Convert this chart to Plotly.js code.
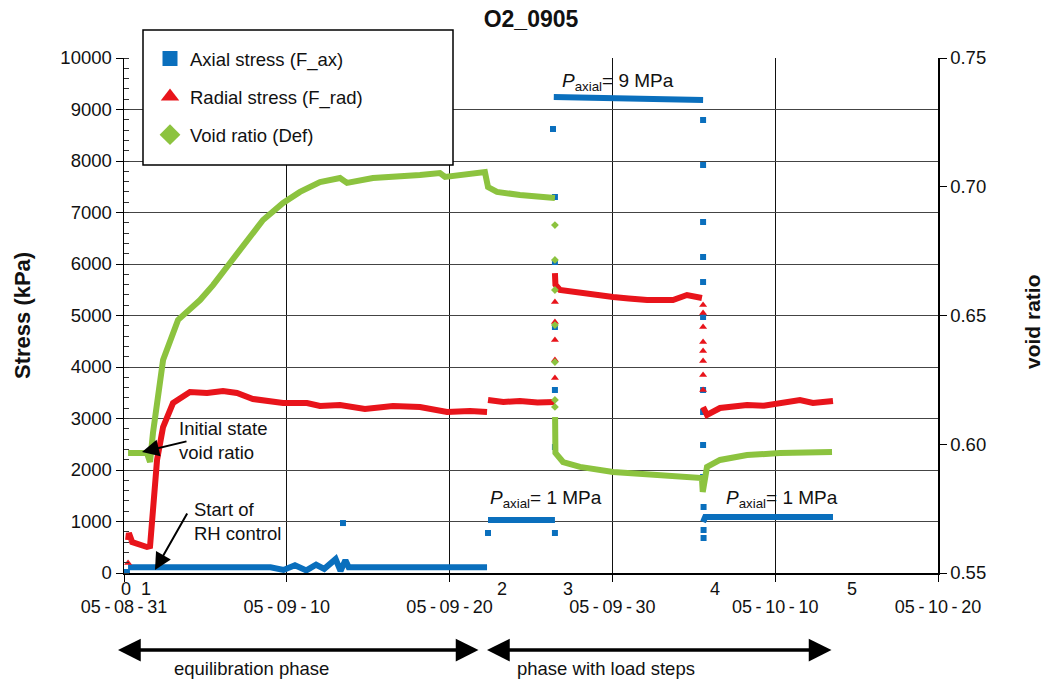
<!DOCTYPE html>
<html>
<head>
<meta charset="utf-8">
<script src="https://cdn.plot.ly/plotly-3.0.1.min.js"></script>
<style>html,body{margin:0;padding:0;background:#fff}#chart{width:1047px;height:682px}</style>
</head>
<body>
<div id="chart"></div>
<script>
// ---- data (x in days after 2005-08-31) ----
const axialDays = [0.25, 9.0, 9.8, 10.5, 11.2, 11.8, 12.3, 13.0, 13.3, 13.6, 13.8, 22.30, null,
                   22.36, 26.47, null, 26.40, 35.57, null, 35.57, 35.70, 43.55];
const axialKPa  = [110, 110, 60, 150, 50, 160, 80, 270, 40, 250, 110, 110, null,
                   1029, 1029, null, 9243, 9184, null, 990, 1087, 1087];
const axialSpikeDays = [0.18, 13.45, 22.36, 26.47, 26.35, 26.47, 26.47, 26.47, 26.47, 26.47,
                        35.57, 35.57, 35.57, 35.57, 35.57, 35.57, 35.57, 35.57, 35.57, 35.57, 35.60, 35.60, 35.60];
const axialSpikeKPa  = [20, 970, 777, 777, 8621, 7301, 6039, 4777, 3553, 2447,
                        8796, 7922, 6816, 6136, 5650, 4971, 3553, 3126, 2485, 1864, 1282, 835, 680];

const radialDays = [0.25, 0.30, 0.50, 1.41, 1.60, 2.03, 2.40, 3.01, 4.05, 5.10, 6.08, 6.94, 7.92, 9.77, 11.24,
                    12.04, 13.27, 14.80, 16.52, 18.18, 19.84, 21.25, 22.30, null,
                    22.36, 23.3, 24.32, 25.4, 26.47, null,
                    26.47, 26.50, 26.78, 28.01, 29.0, 30.04, 31.0, 32.13, 33.72, 34.58, 35.50, null,
                    35.57, 35.81, 36.61, 37.4, 38.27, 39.3, 40.29, 41.52, 42.32, 43.55];
const radialKPa  = [641, 777, 600, 505, 520, 2194, 2835, 3301, 3515, 3495, 3534, 3495, 3379, 3301, 3301,
                    3243, 3262, 3185, 3243, 3223, 3126, 3146, 3126, null,
                    3359, 3320, 3340, 3310, 3320, null,
                    5825, 5600, 5495, 5437, 5400, 5359, 5330, 5301, 5301, 5398, 5340, null,
                    3223, 3068, 3204, 3240, 3262, 3250, 3301, 3359, 3301, 3340];
const radialSpikeDays = [0.25, 26.47, 26.47, 26.47, 26.47, 26.47,
                         35.57, 35.57, 35.57, 35.57, 35.57, 35.57, 35.57, 35.57];
const radialSpikeKPa  = [194, 3786, 4136, 4524, 4874, 5262,
                         5204, 5048, 4777, 4485, 4311, 4117, 3845, 3553];

const voidDays  = [0.25, 1.41, 1.60, 1.78, 2.40, 3.32, 4.67, 5.47, 6.51, 7.56, 8.54, 9.77, 10.81, 12.04,
                   13.27, 13.70, 15.29, 18.18, 19.41, 19.72, 22.17, 22.36, 22.91, 24.32, 26.47, null,
                   26.48, 26.50, 26.97, 28.01, 30.04, 32.13, 34.15, 35.50, 35.55, 35.81, 36.61, 38.27, 40.29, 43.49];
const voidRatio = [0.5966, 0.5966, 0.5931, 0.6044, 0.6327, 0.6483, 0.6560, 0.6618, 0.6704, 0.6793, 0.6871, 0.6937, 0.6980, 0.7018,
                   0.7034, 0.7015, 0.7034, 0.7046, 0.7053, 0.7038, 0.7057, 0.6999, 0.6980, 0.6968, 0.6956, null,
                   0.6106, 0.5966, 0.5931, 0.5912, 0.5892, 0.5881, 0.5873, 0.5869, 0.5815, 0.5912, 0.5939, 0.5958, 0.5966, 0.5970];
const voidSpikeDays  = [26.47, 26.47, 26.47, 26.47, 26.47, 26.47, 26.47];
const voidSpikeRatio = [0.6851, 0.6716, 0.6599, 0.6463, 0.6319, 0.6172, 0.6145];

const stepLabels = ['0', '1', '2', '3', '4', '5'];
const stepDays   = [0.12, 1.35, 23.2, 27.3, 36.3, 44.7];

const seriesNames = ['Axial stress (F_ax)', 'Radial stress (F_rad)', 'Void ratio (Def)'];

// ---- helpers ----
const BASE = Date.UTC(2005, 7, 31);
function toDate(d) {
  if (d === null) return null;
  return new Date(BASE + d * 86400000).toISOString().replace('T', ' ').slice(0, 19);
}
const dates = a => a.map(toDate);

const BLUE = '#0a6fbd', RED = '#e8141b', GREEN = '#8cc33f';
const FONT = 'Liberation Sans, Arial, sans-serif';
const TXT = '#111';

const traces = [
  // legend entries
  {x: [null], y: [null], mode: 'markers', name: seriesNames[0], legendgroup: 'a',
   marker: {symbol: 'square', size: 15, color: BLUE}},
  {x: [null], y: [null], mode: 'markers', name: seriesNames[1], legendgroup: 'b',
   marker: {symbol: 'triangle-up', size: 18, color: RED}},
  {x: [null], y: [null], mode: 'markers', name: seriesNames[2], legendgroup: 'c',
   marker: {symbol: 'diamond', size: 17, color: GREEN}},
  // data
  {x: dates(axialDays), y: axialKPa, mode: 'lines', showlegend: false, connectgaps: false,
   line: {color: BLUE, width: 6}},
  {x: dates(axialSpikeDays), y: axialSpikeKPa, mode: 'markers', showlegend: false,
   marker: {symbol: 'square', size: 6, color: BLUE}},
  {x: dates(radialDays), y: radialKPa, mode: 'lines', showlegend: false, connectgaps: false,
   line: {color: RED, width: 6}},
  {x: dates(radialSpikeDays), y: radialSpikeKPa, mode: 'markers', showlegend: false,
   marker: {symbol: 'triangle-up', size: 7, color: RED}},
  {x: dates(voidDays), y: voidRatio, yaxis: 'y2', mode: 'lines', showlegend: false, connectgaps: false,
   line: {color: GREEN, width: 6}},
  {x: dates(voidSpikeDays), y: voidSpikeRatio, yaxis: 'y2', mode: 'markers', showlegend: false,
   marker: {symbol: 'diamond', size: 6, color: GREEN}}
];

// pixel helpers for layout placement (plot area 124..938 x 58..573)
const px = x => (x - 124) / 814;
const py = y => (573 - y) / 515;

const annotations = [];
stepLabels.forEach((t, i) => annotations.push({
  x: toDate(stepDays[i]), xref: 'x', y: py(589), yref: 'paper', text: t, showarrow: false,
  font: {size: 18, color: TXT}, xanchor: 'center', yanchor: 'middle'
}));
annotations.push(
  {x: px(22), y: py(315), xref: 'paper', yref: 'paper', xanchor: 'center', yanchor: 'middle',
   text: '<b>Stress (kPa)</b>', textangle: -90, showarrow: false, font: {size: 22, color: TXT}},
  {x: px(1032), y: py(322), xref: 'paper', yref: 'paper', xanchor: 'center', yanchor: 'middle',
   text: '<b>void ratio</b>', textangle: -90, showarrow: false, font: {size: 21, color: TXT}},
  {x: px(177), y: py(440), xref: 'paper', yref: 'paper', xanchor: 'left', yanchor: 'middle', align: 'left',
   text: 'Initial state<br>void ratio', showarrow: false, font: {size: 18.5, color: TXT}},
  {x: px(192), y: py(521), xref: 'paper', yref: 'paper', xanchor: 'left', yanchor: 'middle', align: 'left',
   text: 'Start of<br>RH control', showarrow: false, font: {size: 18.5, color: TXT}},
  {x: px(142), y: py(452), xref: 'paper', yref: 'paper', ax: 46, ay: -11, text: '', showarrow: true,
   arrowhead: 2, arrowsize: 1.7, arrowwidth: 2, arrowcolor: '#000'},
  {x: px(155), y: py(570), xref: 'paper', yref: 'paper', ax: 33, ay: -58, text: '', showarrow: true,
   arrowhead: 2, arrowsize: 1.7, arrowwidth: 2, arrowcolor: '#000'},
  {x: px(560), y: py(82), xref: 'paper', yref: 'paper', xanchor: 'left', yanchor: 'middle',
   text: '<i>P</i><sub>axial</sub>= 9 MPa', showarrow: false, font: {size: 19, color: TXT}},
  {x: px(488), y: py(499), xref: 'paper', yref: 'paper', xanchor: 'left', yanchor: 'middle',
   text: '<i>P</i><sub>axial</sub>= 1 MPa', showarrow: false, font: {size: 19, color: TXT}},
  {x: px(724), y: py(499), xref: 'paper', yref: 'paper', xanchor: 'left', yanchor: 'middle',
   text: '<i>P</i><sub>axial</sub>= 1 MPa', showarrow: false, font: {size: 19, color: TXT}},
  {x: px(118), y: py(650), xref: 'paper', yref: 'paper', ax: 362, ay: 0, text: '', showarrow: true,
   arrowhead: 2, startarrowhead: 2, arrowside: 'end+start', arrowsize: 1.3, startarrowsize: 1.3,
   arrowwidth: 3.5, arrowcolor: '#000'},
  {x: px(487), y: py(650), xref: 'paper', yref: 'paper', ax: 346, ay: 0, text: '', showarrow: true,
   arrowhead: 2, startarrowhead: 2, arrowside: 'end+start', arrowsize: 1.3, startarrowsize: 1.3,
   arrowwidth: 3.5, arrowcolor: '#000'},
  {x: px(251), y: py(668), xref: 'paper', yref: 'paper', xanchor: 'center', yanchor: 'middle',
   text: 'equilibration phase', showarrow: false, font: {size: 18.5, color: TXT}},
  {x: px(606), y: py(668), xref: 'paper', yref: 'paper', xanchor: 'center', yanchor: 'middle',
   text: 'phase with load steps', showarrow: false, font: {size: 18.5, color: TXT}}
);

const layout = {
  width: 1047, height: 682,
  margin: {l: 124, r: 109, t: 58, b: 109},
  paper_bgcolor: '#fff', plot_bgcolor: '#fff',
  font: {family: FONT, size: 18, color: TXT},
  title: {text: '<b>O2_0905</b>', x: 0.5, xref: 'paper', y: 1 - 19 / 682, yref: 'container',
          yanchor: 'middle', font: {size: 23, color: TXT}},
  showlegend: true,
  legend: {x: px(150), y: py(40), xanchor: 'left', yanchor: 'top', bgcolor: 'rgba(0,0,0,0)',
           borderwidth: 0, font: {size: 18.5, color: TXT}, traceorder: 'grouped', tracegroupgap: 11},
  xaxis: {
    type: 'date', range: [toDate(0), toDate(50)], tick0: toDate(0), dtick: 864000000,
    tickformat: '%y\u2009-\u2009%m\u2009-\u2009%d', showgrid: true, gridcolor: '#111', gridwidth: 1,
    showline: true, linecolor: '#000', linewidth: 1.5, ticks: 'outside', ticklen: 7, tickcolor: '#000',
    ticklabelstandoff: 10, zeroline: false, tickfont: {size: 18, color: TXT}
  },
  yaxis: {
    range: [0, 10000], dtick: 1000, tickformat: 'd', showgrid: true, gridcolor: '#444', gridwidth: 1,
    showline: true, linecolor: '#000', linewidth: 1.5, ticks: 'outside', ticklen: 7, tickcolor: '#000',
    zeroline: false, tickfont: {size: 18.5, color: TXT},
    minor: {dtick: 200, ticks: 'inside', ticklen: 5, tickcolor: '#333', showgrid: false}
  },
  yaxis2: {
    overlaying: 'y', side: 'right', range: [0.55, 0.75], dtick: 0.05, tickformat: '.2f',
    showgrid: false, showline: true, linecolor: '#000', linewidth: 1.5, ticks: 'outside', ticklen: 7,
    tickcolor: '#000', zeroline: false, tickfont: {size: 18.5, color: TXT}
  },
  shapes: [
    {type: 'rect', xref: 'paper', yref: 'paper', x0: px(143), x1: px(453), y0: py(165), y1: py(30),
     fillcolor: '#fff', line: {color: '#000', width: 1.5}, layer: 'above'}
  ],
  annotations: annotations
};

Plotly.newPlot('chart', traces, layout, {displayModeBar: false, staticPlot: true});
</script>
</body>
</html>
